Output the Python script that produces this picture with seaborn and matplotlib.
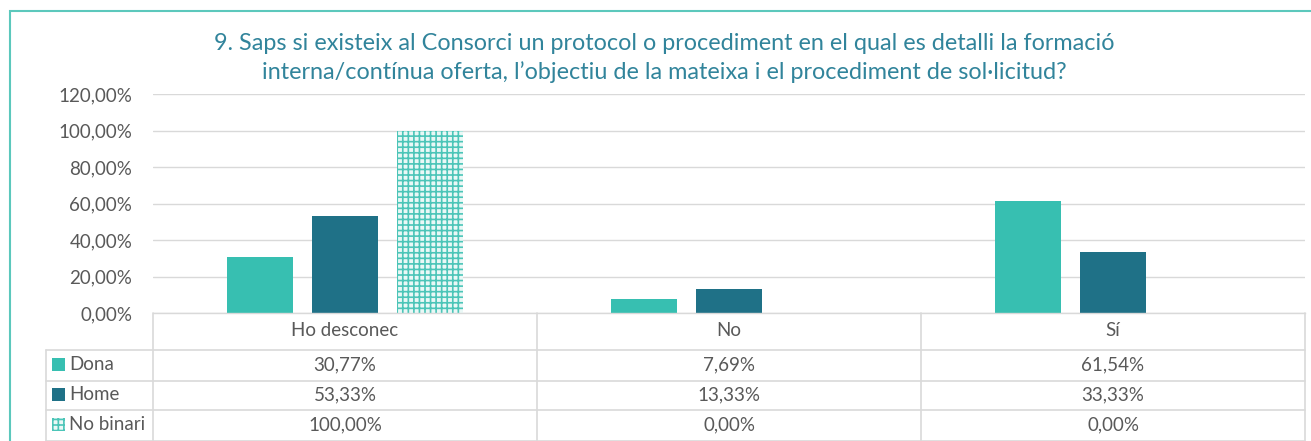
import matplotlib
matplotlib.use("Agg")
import matplotlib.pyplot as plt
import seaborn as sns
import pandas as pd
from matplotlib.patches import Rectangle
from matplotlib.lines import Line2D
from matplotlib.ticker import FuncFormatter, MultipleLocator

categories = ["Ho desconec", "No", "Sí"]
series = ["Dona", "Home", "No binari"]
dona = [30.77, 7.69, 61.54]
home = [53.33, 13.33, 33.33]
no_binari = [100.00, 0.00, 0.00]
title = ("9. Saps si existeix al Consorci un protocol o procediment en el qual es detalli la formació\n"
         "interna/contínua oferta, l\u2019objectiu de la mateixa i el procediment de sol·licitud?")

values = {"Dona": dona, "Home": home, "No binari": no_binari}
colors = {"Dona": "#37BFB1", "Home": "#1F7187", "No binari": "#37BFB1"}

rows = []
for s in series:
    for c, v in zip(categories, values[s]):
        rows.append({"cat": c, "serie": s, "val": v})
df = pd.DataFrame(rows)

sns.set_theme(style="white")
plt.rcParams["font.family"] = ["Lato", "DejaVu Sans"]
plt.rcParams["hatch.linewidth"] = 1.2

W, H = 1311, 441
fig = plt.figure(figsize=(W / 100, H / 100), dpi=100)

def fx(px):
    return px / W

def fy(py):
    return 1 - py / H

L, R, T, B = 153, 1305, 94, 313
ax = fig.add_axes([fx(L), fy(B), fx(R) - fx(L), fy(T) - fy(B)])

sns.barplot(data=df, x="cat", y="val", hue="serie", order=categories, hue_order=series,
            palette=colors, width=0.664, gap=0.22, ax=ax, legend=False, linewidth=0,
            saturation=1)

HATCH = "+++"
for p in ax.containers[2]:
    p.set_facecolor("#eaf8f6")
    p.set_edgecolor("#4cc5b8")
    p.set_hatch(HATCH)
    p.set_linewidth(0)

ax.set_ylim(0, 120)
ax.set_xlim(-0.5, 2.5)
ax.yaxis.set_major_locator(MultipleLocator(20))
ax.yaxis.set_major_formatter(FuncFormatter(lambda v, _: f"{v:.2f}".replace(".", ",") + "%"))
ax.grid(axis="y", color="#d9d9d9", linewidth=1)
ax.set_axisbelow(True)
for sp in ["top", "right", "left"]:
    ax.spines[sp].set_visible(False)
ax.spines["bottom"].set_color("#d9d9d9")
ax.spines["bottom"].set_linewidth(1)
ax.set_xticks([])
ax.set_xlabel("")
ax.set_ylabel("")
ax.tick_params(axis="y", length=0, pad=15, labelsize=13.5, labelcolor="#595959")

# title
fig.text(fx(664), fy(58), title, ha="center", va="center", fontsize=16.8,
         color="#31849B", linespacing=1.42)

# outer frame
fig.add_artist(Rectangle((fx(10), fy(H + 20)), 1.0, fy(11) - fy(H + 20), transform=fig.transFigure,
                         fill=False, edgecolor="#5CC8BC", linewidth=1.5, clip_on=False))

# data table
gc = "#d9d9d9"
col_edges = [153, 537, 921, 1305]
row_edges = [313, 350, 381, 410, 441]
lab_left = 46

def hline(y, x0, x1):
    fig.add_artist(Line2D([fx(x0), fx(x1)], [fy(y), fy(y)], transform=fig.transFigure, color=gc, lw=1.2))

def vline(x, y0, y1):
    fig.add_artist(Line2D([fx(x), fx(x)], [fy(y0), fy(y1)], transform=fig.transFigure, color=gc, lw=1.2))

for y in row_edges[1:]:
    hline(y, lab_left, R)
for x in col_edges:
    vline(x, 313, H + 5)
vline(lab_left, 350, H + 5)

tc = "#595959"
fs = 13.5
for i, c in enumerate(categories):
    cx = (col_edges[i] + col_edges[i + 1]) / 2
    fig.text(fx(cx), fy(330), c, ha="center", va="center", fontsize=fs, color=tc)

for r, s in enumerate(series):
    cy = (row_edges[r + 1] + row_edges[r + 2]) / 2 - 1
    for i, v in enumerate(values[s]):
        cx = (col_edges[i] + col_edges[i + 1]) / 2
        fig.text(fx(cx), fy(cy), f"{v:.2f}".replace(".", ",") + "%", ha="center", va="center",
                 fontsize=fs, color=tc)
    fig.text(fx(69), fy(cy), s, ha="left", va="center", fontsize=fs, color=tc)
    sq = Rectangle((fx(52), fy(cy + 6.5)), fx(13), fy(0) - fy(13), transform=fig.transFigure,
                   facecolor=colors[s] if s != "No binari" else "#eaf8f6",
                   edgecolor=colors[s] if s != "No binari" else "#4cc5b8",
                   linewidth=0, hatch=HATCH if s == "No binari" else None)
    fig.add_artist(sq)

fig.savefig("out.png", dpi=100)
